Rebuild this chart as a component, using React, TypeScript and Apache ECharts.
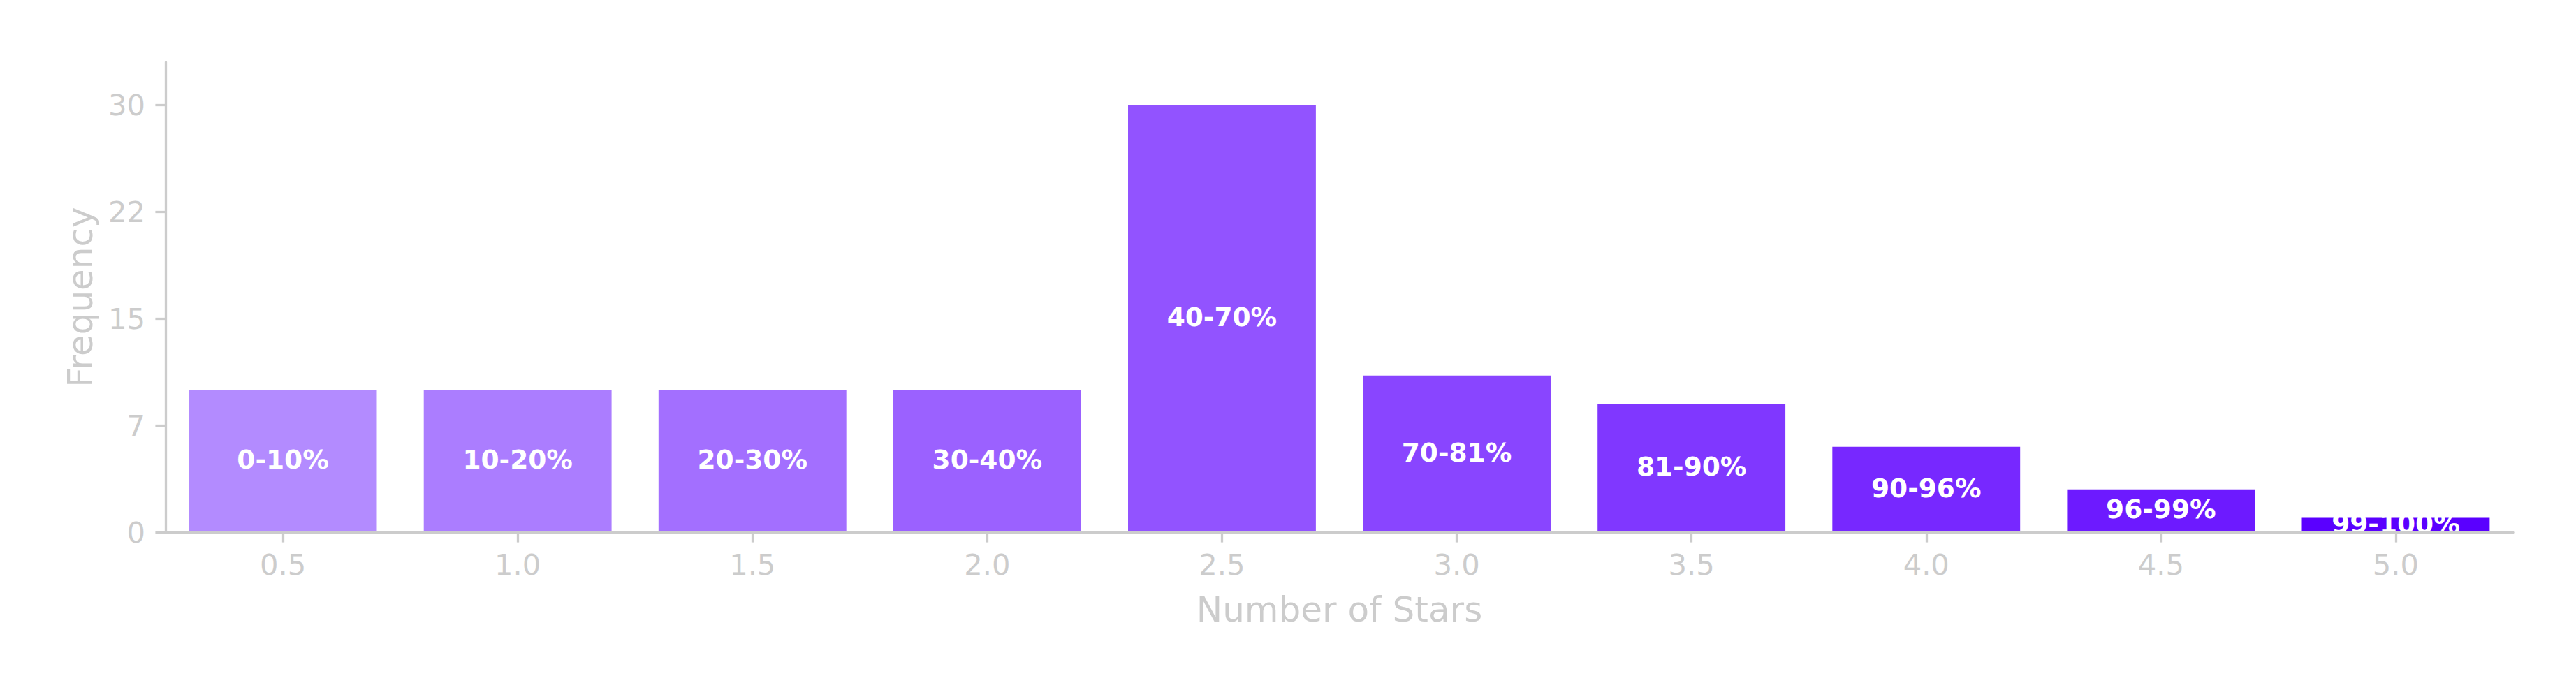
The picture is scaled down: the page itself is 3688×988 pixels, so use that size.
import React, { useEffect, useRef } from "react";
import * as echarts from "echarts";

const starValues = [0.5, 1.0, 1.5, 2.0, 2.5, 3.0, 3.5, 4.0, 4.5, 5.0];
const frequencies = [10, 10, 10, 10, 30, 11, 9, 6, 3, 1];
const rangeLabels = ["0-10%", "10-20%", "20-30%", "30-40%", "40-70%", "70-81%", "81-90%", "90-96%", "96-99%", "99-100%"];
const barColors = ["#b38bff", "#ab7dff", "#a36fff", "#9b61ff", "#9253ff", "#8945ff", "#8037ff", "#7728ff", "#6d1aff", "#5a00ff"];
const yTicks = [0, 7.5, 15, 22.5, 30];

const FONT = '"DejaVu Sans", "Liberation Sans", sans-serif';
const GRAY = "#cccccc";

export default function App() {
  const ref = useRef<HTMLDivElement>(null);
  useEffect(() => {
    if (!ref.current) return;
    const chart = echarts.init(ref.current, null, { renderer: "svg" });
    const data = starValues.map((x, i) => [x, frequencies[i]]);
    chart.setOption({
      animation: false,
      backgroundColor: "#ffffff",
      grid: { left: 237, right: 90, top: 89, bottom: 226, containLabel: false },
      xAxis: {
        type: "value",
        min: 0.25,
        max: 5.25,
        z: 5,
        name: "Number of Stars",
        nameLocation: "middle",
        nameGap: 86,
        nameTextStyle: { color: GRAY, fontSize: 50, fontFamily: FONT },
        splitLine: { show: false },
        axisLine: { show: true, lineStyle: { color: GRAY, width: 3.3 } },
        axisTick: { show: true, length: 14.6, lineStyle: { color: GRAY, width: 3.3 }, customValues: starValues },
        axisLabel: {
          color: GRAY,
          fontSize: 41.67,
          fontFamily: FONT,
          margin: 25,
          customValues: starValues,
          formatter: (v: number) => v.toFixed(1),
        },
      },
      yAxis: {
        type: "value",
        min: 0,
        max: 33,
        name: "Frequency",
        nameLocation: "middle",
        nameGap: 97,
        nameTextStyle: { color: GRAY, fontSize: 50, fontFamily: FONT },
        splitLine: { show: false },
        axisLine: { show: true, lineStyle: { color: GRAY, width: 3.3 } },
        axisTick: { show: true, length: 14.6, lineStyle: { color: GRAY, width: 3.3 }, customValues: yTicks },
        axisLabel: {
          color: GRAY,
          fontSize: 41.67,
          fontFamily: FONT,
          margin: 29,
          customValues: yTicks,
          formatter: (v: number) => String(Math.trunc(v)),
        },
      },
      series: [
        {
          type: "custom",
          data,
          clip: false,
          renderItem: (params: any, api: any) => {
            const i = params.dataIndex;
            const x = api.value(0);
            const y = api.value(1);
            const p1 = api.coord([x - 0.2, y]);
            const p2 = api.coord([x + 0.2, 0]);
            const mid = api.coord([x, y / 2]);
            return {
              type: "group",
              children: [
                {
                  type: "rect",
                  shape: { x: p1[0], y: p1[1], width: p2[0] - p1[0], height: p2[1] - p1[1] },
                  style: { fill: barColors[i] },
                },
                {
                  type: "text",
                  style: {
                    text: rangeLabels[i],
                    x: mid[0],
                    y: mid[1] - 2,
                    align: "center",
                    verticalAlign: "middle",
                    fill: "#ffffff",
                    fontSize: 37.5,
                    fontWeight: "bold",
                    fontFamily: FONT,
                  },
                },
              ],
            };
          },
        },
      ],
    });
    return () => chart.dispose();
  }, []);
  return (
    <div
      ref={ref}
      style={{ position: "fixed", left: 0, top: 0, width: 3688, height: 988, background: "#fff" }}
    />
  );
}
